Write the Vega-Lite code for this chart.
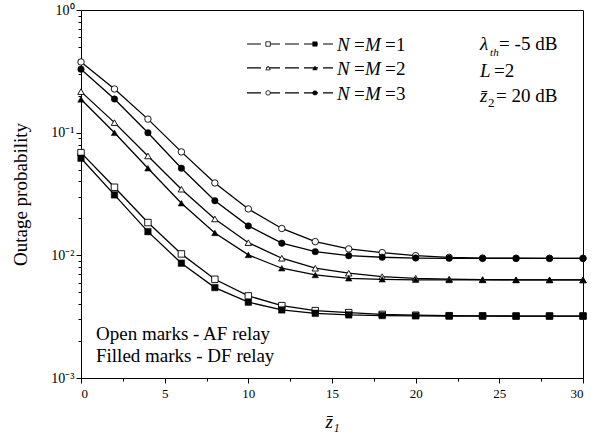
{
  "$schema": "https://vega.github.io/schema/vega-lite/v6.json",
  "width": 502,
  "height": 368,
  "autosize": {"type": "none"},
  "padding": {"left": 81, "top": 10, "right": 17, "bottom": 67},
  "background": "white",
  "config": {
    "view": {"stroke": "black", "strokeWidth": 1},
    "font": "Liberation Serif",
    "axis": {
      "domainColor": "black", "tickColor": "black", "labelColor": "black", "titleColor": "black",
      "grid": false, "labelFont": "Liberation Serif", "titleFont": "Liberation Serif",
      "labelFontSize": 13, "titleFontSize": 19, "titleFontWeight": "normal",
      "domainWidth": 1, "tickWidth": 1
    }
  },
  "datasets": {
    "curves": [
      {"r":"AF","n":1,"x":0,"p":0.0687},{"r":"AF","n":1,"x":2,"p":0.0359},{"r":"AF","n":1,"x":4,"p":0.0185},{"r":"AF","n":1,"x":6,"p":0.01027},{"r":"AF","n":1,"x":8,"p":0.00638},{"r":"AF","n":1,"x":10,"p":0.00467},{"r":"AF","n":1,"x":12,"p":0.00389},{"r":"AF","n":1,"x":14,"p":0.00354},{"r":"AF","n":1,"x":16,"p":0.00341},{"r":"AF","n":1,"x":18,"p":0.0033},{"r":"AF","n":1,"x":20,"p":0.00325},{"r":"AF","n":1,"x":22,"p":0.00322},{"r":"AF","n":1,"x":24,"p":0.00321},{"r":"AF","n":1,"x":26,"p":0.0032},{"r":"AF","n":1,"x":28,"p":0.0032},{"r":"AF","n":1,"x":30,"p":0.0032},
      {"r":"DF","n":1,"x":0,"p":0.0619},{"r":"DF","n":1,"x":2,"p":0.0311},{"r":"DF","n":1,"x":4,"p":0.0156},{"r":"DF","n":1,"x":6,"p":0.00863},{"r":"DF","n":1,"x":8,"p":0.00546},{"r":"DF","n":1,"x":10,"p":0.00415},{"r":"DF","n":1,"x":12,"p":0.00359},{"r":"DF","n":1,"x":14,"p":0.00337},{"r":"DF","n":1,"x":16,"p":0.00327},{"r":"DF","n":1,"x":18,"p":0.00323},{"r":"DF","n":1,"x":20,"p":0.00321},{"r":"DF","n":1,"x":22,"p":0.0032},{"r":"DF","n":1,"x":24,"p":0.0032},{"r":"DF","n":1,"x":26,"p":0.0032},{"r":"DF","n":1,"x":28,"p":0.0032},{"r":"DF","n":1,"x":30,"p":0.0032},
      {"r":"AF","n":2,"x":0,"p":0.216},{"r":"AF","n":2,"x":2,"p":0.1207},{"r":"AF","n":2,"x":4,"p":0.0646},{"r":"AF","n":2,"x":6,"p":0.0346},{"r":"AF","n":2,"x":8,"p":0.0198},{"r":"AF","n":2,"x":10,"p":0.01268},{"r":"AF","n":2,"x":12,"p":0.00947},{"r":"AF","n":2,"x":14,"p":0.00785},{"r":"AF","n":2,"x":16,"p":0.00715},{"r":"AF","n":2,"x":18,"p":0.0067},{"r":"AF","n":2,"x":20,"p":0.0065},{"r":"AF","n":2,"x":22,"p":0.0064},{"r":"AF","n":2,"x":24,"p":0.00635},{"r":"AF","n":2,"x":26,"p":0.00632},{"r":"AF","n":2,"x":28,"p":0.00631},{"r":"AF","n":2,"x":30,"p":0.0063},
      {"r":"DF","n":2,"x":0,"p":0.187},{"r":"DF","n":2,"x":2,"p":0.0998},{"r":"DF","n":2,"x":4,"p":0.0513},{"r":"DF","n":2,"x":6,"p":0.0266},{"r":"DF","n":2,"x":8,"p":0.01523},{"r":"DF","n":2,"x":10,"p":0.01008},{"r":"DF","n":2,"x":12,"p":0.00785},{"r":"DF","n":2,"x":14,"p":0.00692},{"r":"DF","n":2,"x":16,"p":0.0065},{"r":"DF","n":2,"x":18,"p":0.00638},{"r":"DF","n":2,"x":20,"p":0.00632},{"r":"DF","n":2,"x":22,"p":0.0063},{"r":"DF","n":2,"x":24,"p":0.0063},{"r":"DF","n":2,"x":26,"p":0.0063},{"r":"DF","n":2,"x":28,"p":0.0063},{"r":"DF","n":2,"x":30,"p":0.0063},
      {"r":"AF","n":3,"x":0,"p":0.377},{"r":"AF","n":3,"x":2,"p":0.227},{"r":"AF","n":3,"x":4,"p":0.129},{"r":"AF","n":3,"x":6,"p":0.0697},{"r":"AF","n":3,"x":8,"p":0.0389},{"r":"AF","n":3,"x":10,"p":0.0239},{"r":"AF","n":3,"x":12,"p":0.01656},{"r":"AF","n":3,"x":14,"p":0.01294},{"r":"AF","n":3,"x":16,"p":0.01128},{"r":"AF","n":3,"x":18,"p":0.01052},{"r":"AF","n":3,"x":20,"p":0.00994},{"r":"AF","n":3,"x":22,"p":0.00963},{"r":"AF","n":3,"x":24,"p":0.0095},{"r":"AF","n":3,"x":26,"p":0.00947},{"r":"AF","n":3,"x":28,"p":0.00946},{"r":"AF","n":3,"x":30,"p":0.00946},
      {"r":"DF","n":3,"x":0,"p":0.329},{"r":"DF","n":3,"x":2,"p":0.188},{"r":"DF","n":3,"x":4,"p":0.0998},{"r":"DF","n":3,"x":6,"p":0.0513},{"r":"DF","n":3,"x":8,"p":0.0279},{"r":"DF","n":3,"x":10,"p":0.01738},{"r":"DF","n":3,"x":12,"p":0.01256},{"r":"DF","n":3,"x":14,"p":0.01072},{"r":"DF","n":3,"x":16,"p":0.00994},{"r":"DF","n":3,"x":18,"p":0.00965},{"r":"DF","n":3,"x":20,"p":0.0095},{"r":"DF","n":3,"x":22,"p":0.00945},{"r":"DF","n":3,"x":24,"p":0.00944},{"r":"DF","n":3,"x":26,"p":0.00944},{"r":"DF","n":3,"x":28,"p":0.00944},{"r":"DF","n":3,"x":30,"p":0.00944}
    ],
    "legend": [{"n":1,"y":0.528},{"n":2,"y":0.337},{"n":3,"y":0.211}]
  },
  "resolve": {"axis": {"x": "independent", "y": "independent"}},
  "layer": [
    {
      "data": {"name": "curves"},
      "mark": {"type": "line", "color": "black", "strokeWidth": 1.3},
      "encoding": {
        "x": {"field": "x", "type": "quantitative",
              "scale": {"domain": [0, 30], "nice": false, "zero": false},
              "axis": {"orient": "bottom", "values": [0,5,10,15,20,25,30], "tickSize": 5, "labelPadding": 4, "title": "z̄₁", "titleFontStyle": "italic", "titlePadding": 12}},
        "y": {"field": "p", "type": "quantitative",
              "scale": {"type": "log", "domain": [0.001, 1], "nice": false},
              "axis": {"orient": "left", "values": [0.001, 0.01, 0.1, 1], "tickSize": 5, "labelPadding": 2, "labelFontSize": 14,
                       "labelExpr": "datum.value >= 0.5 ? '10⁰' : datum.value >= 0.05 ? '10⁻¹' : datum.value >= 0.005 ? '10⁻²' : '10⁻³'",
                       "title": "Outage probability", "titlePadding": 20}},
        "detail": [{"field": "r"}, {"field": "n"}]
      }
    },
    {
      "data": {"name": "curves"},
      "transform": [{"filter": "datum.r == 'AF'"}],
      "mark": {"type": "point", "filled": true, "fill": "white", "stroke": "black", "strokeWidth": 0.9, "opacity": 1, "size": 42},
      "encoding": {
        "x": {"field": "x", "type": "quantitative",
              "axis": {"orient": "bottom", "values": [2.5,7.5,12.5,17.5,22.5,27.5], "tickSize": 3, "labels": false, "domain": false, "title": null}},
        "y": {"field": "p", "type": "quantitative",
              "axis": {"orient": "left", "values": [0.002,0.003,0.004,0.005,0.006,0.007,0.008,0.009,0.02,0.03,0.04,0.05,0.06,0.07,0.08,0.09,0.2,0.3,0.4,0.5,0.6,0.7,0.8,0.9], "tickSize": 3, "labels": false, "domain": false, "title": null}},
        "shape": {"field": "n", "type": "nominal", "scale": {"domain": [1,2,3], "range": ["square","triangle-up","circle"]}, "legend": null}
      }
    },
    {
      "data": {"name": "curves"},
      "transform": [{"filter": "datum.r == 'DF'"}],
      "mark": {"type": "point", "filled": true, "fill": "black", "stroke": "black", "strokeWidth": 0.5, "opacity": 1, "size": 42},
      "encoding": {
        "x": {"field": "x", "type": "quantitative", "axis": null},
        "y": {"field": "p", "type": "quantitative", "axis": null},
        "shape": {"field": "n", "type": "nominal", "legend": null}
      }
    },
    {
      "data": {"name": "legend"},
      "mark": {"type": "rule", "color": "black", "strokeWidth": 1.2, "strokeDash": [14, 5]},
      "encoding": {
        "x": {"datum": 9.92, "type": "quantitative", "axis": null},
        "x2": {"datum": 15.06},
        "y": {"field": "y", "type": "quantitative", "axis": null}
      }
    },
    {
      "data": {"name": "legend"},
      "mark": {"type": "point", "filled": true, "fill": "white", "stroke": "black", "strokeWidth": 0.8, "opacity": 1, "size": 20},
      "encoding": {
        "x": {"datum": 11.18, "type": "quantitative", "axis": null},
        "y": {"field": "y", "type": "quantitative", "axis": null},
        "shape": {"field": "n", "type": "nominal", "legend": null}
      }
    },
    {
      "data": {"name": "legend"},
      "mark": {"type": "point", "filled": true, "fill": "black", "stroke": "black", "strokeWidth": 0.5, "opacity": 1, "size": 20},
      "encoding": {
        "x": {"datum": 13.98, "type": "quantitative", "axis": null},
        "y": {"field": "y", "type": "quantitative", "axis": null},
        "shape": {"field": "n", "type": "nominal", "legend": null}
      }
    },
    {
      "data": {"name": "legend"},
      "mark": {"type": "text", "text": "N", "fontStyle": "italic", "fontSize": 19, "align": "left", "baseline": "middle", "dy": 1, "font": "Liberation Serif", "color": "black"},
      "encoding": {"x": {"datum": 15.3, "type": "quantitative", "axis": null}, "y": {"field": "y", "type": "quantitative", "axis": null}}
    },
    {
      "data": {"name": "legend"},
      "mark": {"type": "text", "text": "=", "fontSize": 19, "align": "left", "baseline": "middle", "dx": 17, "dy": 1, "font": "Liberation Serif", "color": "black"},
      "encoding": {"x": {"datum": 15.3, "type": "quantitative", "axis": null}, "y": {"field": "y", "type": "quantitative", "axis": null}}
    },
    {
      "data": {"name": "legend"},
      "mark": {"type": "text", "text": "M", "fontStyle": "italic", "fontSize": 19, "align": "left", "baseline": "middle", "dx": 28, "dy": 1, "font": "Liberation Serif", "color": "black"},
      "encoding": {"x": {"datum": 15.3, "type": "quantitative", "axis": null}, "y": {"field": "y", "type": "quantitative", "axis": null}}
    },
    {
      "data": {"name": "legend"},
      "mark": {"type": "text", "fontSize": 19, "align": "left", "baseline": "middle", "dx": 48, "dy": 1, "font": "Liberation Serif", "color": "black"},
      "encoding": {"x": {"datum": 15.3, "type": "quantitative", "axis": null}, "y": {"field": "y", "type": "quantitative", "axis": null},
                   "text": {"value": "="}}
    },
    {
      "data": {"name": "legend"},
      "mark": {"type": "text", "fontSize": 19, "align": "left", "baseline": "middle", "dx": 59, "dy": 1, "font": "Liberation Serif", "color": "black"},
      "encoding": {"x": {"datum": 15.3, "type": "quantitative", "axis": null}, "y": {"field": "y", "type": "quantitative", "axis": null},
                   "text": {"field": "n"}}
    },
    {
      "data": {"values": [{}]},
      "mark": {"type": "text", "text": "λ", "fontStyle": "italic", "fontSize": 19, "align": "left", "baseline": "alphabetic", "font": "Liberation Serif", "color": "black"},
      "encoding": {"x": {"datum": 23.85, "type": "quantitative", "axis": null}, "y": {"datum": 0.472, "type": "quantitative", "axis": null}}
    },
    {
      "data": {"values": [{}]},
      "mark": {"type": "text", "text": "th", "fontStyle": "italic", "fontSize": 11, "align": "left", "baseline": "alphabetic", "dx": 10, "dy": 6, "font": "Liberation Serif", "color": "black"},
      "encoding": {"x": {"datum": 23.85, "type": "quantitative", "axis": null}, "y": {"datum": 0.472, "type": "quantitative", "axis": null}}
    },
    {
      "data": {"values": [{}]},
      "mark": {"type": "text", "text": "= -5 dB", "fontSize": 19, "align": "left", "baseline": "alphabetic", "dx": 19, "font": "Liberation Serif", "color": "black"},
      "encoding": {"x": {"datum": 23.85, "type": "quantitative", "axis": null}, "y": {"datum": 0.472, "type": "quantitative", "axis": null}}
    },
    {
      "data": {"values": [{}]},
      "mark": {"type": "text", "text": "L", "fontStyle": "italic", "fontSize": 19, "align": "left", "baseline": "alphabetic", "font": "Liberation Serif", "color": "black"},
      "encoding": {"x": {"datum": 23.85, "type": "quantitative", "axis": null}, "y": {"datum": 0.2844, "type": "quantitative", "axis": null}}
    },
    {
      "data": {"values": [{}]},
      "mark": {"type": "text", "text": "=2", "fontSize": 19, "align": "left", "baseline": "alphabetic", "dx": 14, "font": "Liberation Serif", "color": "black"},
      "encoding": {"x": {"datum": 23.85, "type": "quantitative", "axis": null}, "y": {"datum": 0.2844, "type": "quantitative", "axis": null}}
    },
    {
      "data": {"values": [{}]},
      "mark": {"type": "text", "text": "z̄", "fontStyle": "italic", "fontSize": 19, "align": "left", "baseline": "alphabetic", "font": "Liberation Serif", "color": "black"},
      "encoding": {"x": {"datum": 23.85, "type": "quantitative", "axis": null}, "y": {"datum": 0.178, "type": "quantitative", "axis": null}}
    },
    {
      "data": {"values": [{}]},
      "mark": {"type": "text", "text": "2", "fontSize": 13, "align": "left", "baseline": "alphabetic", "dx": 8, "dy": 5, "font": "Liberation Serif", "color": "black"},
      "encoding": {"x": {"datum": 23.85, "type": "quantitative", "axis": null}, "y": {"datum": 0.178, "type": "quantitative", "axis": null}}
    },
    {
      "data": {"values": [{}]},
      "mark": {"type": "text", "text": "= 20 dB", "fontSize": 19, "align": "left", "baseline": "alphabetic", "dx": 16, "font": "Liberation Serif", "color": "black"},
      "encoding": {"x": {"datum": 23.85, "type": "quantitative", "axis": null}, "y": {"datum": 0.178, "type": "quantitative", "axis": null}}
    },
    {
      "data": {"values": [{}]},
      "mark": {"type": "text", "text": "Open marks - AF relay", "fontSize": 19, "align": "left", "baseline": "alphabetic", "font": "Liberation Serif", "color": "black"},
      "encoding": {"x": {"datum": 0.896, "type": "quantitative", "axis": null}, "y": {"datum": 0.002046, "type": "quantitative", "axis": null}}
    },
    {
      "data": {"values": [{}]},
      "mark": {"type": "text", "text": "Filled marks - DF relay", "fontSize": 19, "align": "left", "baseline": "alphabetic", "font": "Liberation Serif", "color": "black"},
      "encoding": {"x": {"datum": 0.896, "type": "quantitative", "axis": null}, "y": {"datum": 0.00135, "type": "quantitative", "axis": null}}
    }
  ]
}
